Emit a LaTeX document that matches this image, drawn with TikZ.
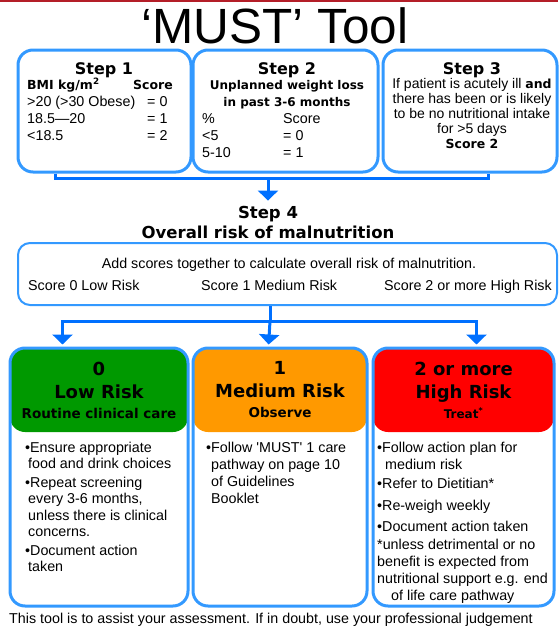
\documentclass[tikz,border=0pt]{standalone}
\usepackage{fontspec}
\setmainfont{Liberation Sans}
\newfontfamily\hdfont{DejaVu Sans}
\usepackage{tikz}
\usetikzlibrary{arrows.meta,positioning,calc}
\definecolor{boxblue}{RGB}{51,153,255}
\definecolor{linkblue}{RGB}{0,112,255}
\definecolor{lowgreen}{RGB}{0,153,0}
\definecolor{midorange}{RGB}{255,153,0}
\definecolor{highred}{RGB}{255,0,0}
\definecolor{topred}{RGB}{180,30,40}

\begin{document}
\begin{tikzpicture}[x=1pt,y=-1pt]
	\tikzset{txt/.style = {inner sep=0pt,font=\fontsize{14.3}{17}\selectfont}}
	\tikzset{hd/.style = {inner sep=0pt,font=\hdfont\bfseries\fontsize{16}{20}\selectfont}}
	\tikzset{stepbox/.style = {draw=boxblue,line width=3pt,rounded corners=15pt,minimum height=122pt}}
	\tikzset{riskbox/.style = {draw=boxblue,line width=3pt,rounded corners=15pt,minimum height=258pt}}
	\tikzset{riskhead/.style = {rounded corners=15pt,minimum height=84pt,inner sep=0pt,align=center,font=\hdfont\bfseries\fontsize{18}{23}\selectfont}}
	\tikzset{conn/.style = {draw=linkblue,line width=3pt}}
	\tikzset{arr/.style = {conn,-{Triangle[width=20pt,length=10pt]}}}

	\useasboundingbox (0,0) rectangle (558,627);
	\draw[line width=2.5pt,draw=topred] (0,1) -- (558,1);
	\node[anchor=base,inner sep=0pt,font=\fontsize{49.5}{49.5}\selectfont] (title) at (275,43) {‘MUST’ Tool};

	\node[stepbox,minimum width=173pt] (s1) at (104.5,111) {};
	\node[stepbox,minimum width=185pt] (s2) at (285.5,111) {};
	\node[stepbox,minimum width=174pt] (s3) at (470,111) {};

	\node[hd,anchor=base] (t1) at (104,74) {Step 1};
	\node[txt,anchor=base west,align=left] (bmi) at (27,140) {{\hdfont\bfseries\fontsize{12.5}{17}\selectfont BMI kg/m\textsuperscript{2}}\\>20 (>30 Obese)\\18.5—20\\<18.5};
	\node[txt,anchor=base east,font=\hdfont\bfseries\fontsize{12.5}{17}\selectfont] (sc1) at (173,89) {Score};
	\node[txt,anchor=base west,align=left] (eq1) at (147,140) {= 0\\= 1\\= 2};

	\node[hd,anchor=base] (t2) at (287,74) {Step 2};
	\node[txt,anchor=base,align=center,font=\hdfont\bfseries\fontsize{12}{17}\selectfont] (wl) at (287,106) {Unplanned weight loss\\in past 3-6 months};
	\node[txt,anchor=base west,align=left] (pc) at (202,157) {\%\\<5\\5-10};
	\node[txt,anchor=base west,align=left] (sc2) at (283,157) {Score\\= 0\\= 1};

	\node[hd,anchor=base] (t3) at (472,74) {Step 3};
	\node[txt,anchor=base,align=center,font=\fontsize{14}{14.8}\selectfont] (ill) at (472,148) {If patient is acutely ill {\hdfont\bfseries\fontsize{12.5}{14.8}\selectfont and}\\there has been or is likely\\to be no nutritional intake\\for >5 days\\{\hdfont\bfseries\fontsize{12.5}{14.8}\selectfont Score 2}};

	\node[hd,anchor=base,align=center,font=\hdfont\bfseries\fontsize{16.5}{20}\selectfont] (h4) at (268,238) {Step 4\\Overall risk of malnutrition};
	\coordinate (j1) at (268,178);
	\draw[conn] ([xshift=39pt]s1.south west) |- (j1) -| ([xshift=-70pt]s3.south east);
	\draw[arr,shorten >=5pt] (j1) -- (h4.north);

	\node[draw=boxblue,line width=2pt,rounded corners=12pt,minimum width=539pt,minimum height=62pt] (s4) at (287.5,274) {};
	\node[txt,anchor=base] (add) at (289,268) {Add scores together to calculate overall risk of malnutrition.};
	\node[txt,anchor=base west] (lo) at (28,290) {Score 0 Low Risk};
	\node[txt,anchor=base west] (me) at (201,290) {Score 1 Medium Risk};
	\node[txt,anchor=base east] (hi) at (552,290) {Score 2 or more High Risk};

	\node[riskhead,fill=lowgreen,minimum width=178pt] (h0) at (99,390) {0\\Low Risk\\[-3pt]{\fontsize{13.5}{17}\selectfont Routine clinical care}};
	\node[riskhead,fill=midorange,minimum width=174pt] (h1) at (280,390) {1\\Medium Risk\\[-3pt]{\fontsize{13.5}{17}\selectfont Observe}};
	\node[riskhead,fill=highred,minimum width=181pt] (h2) at (463.5,390) {2 or more\\High Risk\\[-3pt]{\fontsize{12}{17}\selectfont Treat\textsuperscript{*}}};
	\node[riskbox,minimum width=178pt] (r0) at (99,477) {};
	\node[riskbox,minimum width=174pt] (r1) at (280,477) {};
	\node[riskbox,minimum width=181pt] (r2) at (463.5,477) {};

	\coordinate (j2) at (270,321);
	\draw[conn] (s4.south -| j2) -- (j2);
	\draw[arr,shorten >=2pt] (j2) -| ([xshift=54pt]r0.north west);
	\draw[arr,shorten >=2pt] (j2) -- ([xshift=77pt]r1.north west);
	\draw[arr,shorten >=2pt] (j2) -| ([xshift=105pt]r2.north west);

	\node[txt,anchor=base west,align=left,font=\fontsize{14.3}{16.5}\selectfont] (b0) at (25,571.5) {•Ensure appropriate\\\hspace{3pt}food and drink choices\\[2pt]•Repeat screening\\\hspace{3pt}every 3-6 months,\\\hspace{3pt}unless there is clinical\\\hspace{3pt}concerns.\\[2pt]•Document action\\\hspace{3pt}taken};
	\node[txt,anchor=base west,align=left] (b1) at (206,503) {•Follow \textquotesingle MUST\textquotesingle\ 1 care\\\hspace{5pt}pathway on page 10\\\hspace{5pt}of Guidelines\\\hspace{5pt}Booklet};
	\node[txt,anchor=base west,align=left] (b2) at (377,600) {•Follow action plan for\\\hspace{8pt}medium risk\\[2pt]•Refer to Dietitian*\\[5pt]•Re-weigh weekly\\[4pt]•Document action taken\\[1pt]*unless detrimental or no\\benefit is expected from\\nutritional support e.g. end\\\hspace{14pt}of life care pathway};

	\node[txt,anchor=base west,font=\fontsize{14.3}{16}\selectfont] (foot) at (9,623) {This tool is to assist your assessment. If in doubt, use your professional judgement};
\end{tikzpicture}
\end{document}
